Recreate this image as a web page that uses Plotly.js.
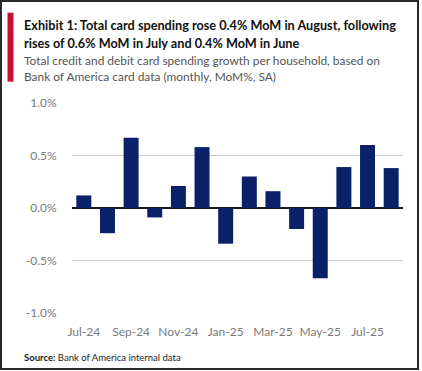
<!DOCTYPE html>
<html><head><meta charset="utf-8">
<script src="https://cdn.plot.ly/plotly-3.0.1.min.js"></script>
<style>html,body{margin:0;padding:0;background:#fff;}#wrap{position:relative;width:422px;height:371px;}#chart{width:422px;height:371px;}#frame{position:absolute;left:0;top:0;width:419px;height:370px;box-sizing:border-box;border:2px solid #2a2a2a;pointer-events:none;}</style>
</head><body><div id="wrap"><div id="chart"></div><div id="frame"></div></div>
<script>
const months = ["Jul-24","Aug-24","Sep-24","Oct-24","Nov-24","Dec-24","Jan-25","Feb-25","Mar-25","Apr-25","May-25","Jun-25","Jul-25","Aug-25"];
const momGrowth = [0.12,-0.24,0.67,-0.09,0.21,0.58,-0.34,0.30,0.16,-0.20,-0.67,0.39,0.60,0.38];
const xTickLabels = ["Jul-24","Sep-24","Nov-24","Jan-25","Mar-25","May-25","Jul-25"];
const yTickVals = [-1.0,-0.5,0,0.5,1.0];
const yTickText = ["-1.0%","-0.5%","0.0%","0.5%","1.0%"];
const titleLines = ["Exhibit 1: Total card spending rose 0.4% MoM in August, following","rises of 0.6% MoM in July and 0.4% MoM in June"];
const subtitleLines = ["Total credit and debit card spending growth per household, based on","Bank of America card data (monthly, MoM%, SA)"];
const sourceText = "<b>Source:</b> Bank of America internal data";

const W = 422, H = 371, L = 72, R = 19, T = 103, B = 58;
const pw = W - L - R, ph = H - T - B;
const px = v => (v - L) / pw;
const py = v => 1 - (v - T) / ph;
const FONT = "Lato, 'Open Sans', sans-serif";

const ann = [];
titleLines.forEach((t, i) => ann.push({text: t, x: px(22), y: py(25 + i * 18), xref: 'paper', yref: 'paper', xanchor: 'left', yanchor: 'middle', showarrow: false, font: {family: FONT, size: 12.7, color: '#111', weight: 700}}));
subtitleLines.forEach((t, i) => ann.push({text: t, x: px(22), y: py(60 + i * 16), xref: 'paper', yref: 'paper', xanchor: 'left', yanchor: 'middle', showarrow: false, font: {family: FONT, size: 11.9, color: '#555'}}));
ann.push({text: sourceText, x: px(22), y: py(357), xref: 'paper', yref: 'paper', xanchor: 'left', yanchor: 'middle', showarrow: false, font: {family: FONT, size: 9.5, color: '#222'}});

const trace = {type: 'bar', x: months, y: momGrowth, marker: {color: '#0a2169'}, hoverinfo: 'skip'};
const layout = {
  width: W, height: H, margin: {l: L, r: R, t: T, b: B},
  paper_bgcolor: '#fff', plot_bgcolor: '#fff', showlegend: false, bargap: 0.366,
  xaxis: {type: 'category', range: [-0.5, 13.5], tickvals: xTickLabels, ticktext: xTickLabels, showgrid: false, zeroline: false, showline: false,
    ticks: 'outside', ticklen: 8, tickcolor: 'rgba(0,0,0,0)', tickfont: {family: FONT, size: 12, color: '#7a7a7a'}},
  yaxis: {range: [-1.0, 1.0], tickvals: yTickVals, ticktext: yTickText, showgrid: true, gridcolor: '#c8c8c8', gridwidth: 1.3,
    zeroline: true, zerolinecolor: '#1a1a1a', zerolinewidth: 2, showline: false,
    ticks: 'outside', ticklen: 12, tickcolor: 'rgba(0,0,0,0)', tickfont: {family: FONT, size: 12, color: '#7a7a7a'}},
  shapes: [{type: 'rect', xref: 'paper', yref: 'paper', x0: px(7.5), x1: px(13.5), y0: py(12.7), y1: py(81.7), fillcolor: '#c8102e', line: {width: 0}}],
  annotations: ann
};
Plotly.newPlot('chart', [trace], layout, {displayModeBar: false, staticPlot: true});
</script></body></html>
